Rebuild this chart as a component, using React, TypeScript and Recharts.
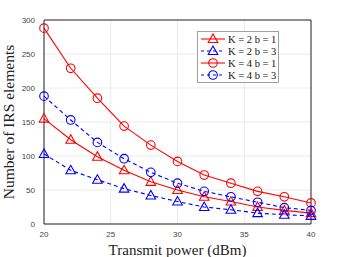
import { LineChart, Line, XAxis, YAxis, CartesianGrid, ReferenceLine, Legend, Label } from 'recharts'

const power = [20, 22, 24, 26, 28, 30, 32, 34, 36, 38, 40]
const k2b1 = [155, 124, 99, 79, 62, 50, 40, 33, 25, 20, 16]
const k2b3 = [103, 79, 65, 52, 42, 33, 25, 21, 16, 13.5, 12]
const k4b1 = [288, 229, 185, 144, 116, 92, 72, 60, 48, 40, 31]
const k4b3 = [188, 153, 120, 96, 76, 60, 48, 40, 32, 24, 20]
const xTicks = [20, 25, 30, 35, 40]
const yTicks = [0, 50, 100, 150, 200, 250, 300]

const data = power.map((p, i) => ({ p, k2b1: k2b1[i], k2b3: k2b3[i], k4b1: k4b1[i], k4b3: k4b3[i] }))

const series = [
  { key: 'k2b1', name: 'K = 2 b = 1', color: '#ff0000', dash: undefined, shape: 'tri' },
  { key: 'k2b3', name: 'K = 2 b = 3', color: '#0000ff', dash: '4 3', shape: 'tri' },
  { key: 'k4b1', name: 'K = 4 b = 1', color: '#ff0000', dash: undefined, shape: 'circ' },
  { key: 'k4b3', name: 'K = 4 b = 3', color: '#0000ff', dash: '4 3', shape: 'circ' },
]

const Marker = ({ cx, cy, color, shape }: any) => {
  if (cx == null || cy == null) return null
  if (shape === 'tri') {
    return (
      <polygon points={`${cx},${cy - 5} ${cx - 4.8},${cy + 3.5} ${cx + 4.8},${cy + 3.5}`}
        fill="none" stroke={color} strokeWidth={1.1} strokeDasharray="none" />
    )
  }
  return <circle cx={cx} cy={cy} r={4.3} fill="none" stroke={color} strokeWidth={1.1} strokeDasharray="none" />
}

const LegendBox = () => (
  <div style={{ background: '#fff', border: '1px solid #a0a0a0', padding: '1px 2px', fontFamily: '"Liberation Serif", serif', fontSize: 10.5, color: '#111' }}>
    {series.map(s => (
      <div key={s.key} style={{ display: 'flex', alignItems: 'center', height: 12 }}>
        <svg width={26} height={12}>
          <line x1={1} y1={6} x2={25} y2={6} stroke={s.color} strokeWidth={1.1} strokeDasharray={s.dash ? '3 3' : undefined} />
          <Marker cx={13} cy={6} color={s.color} shape={s.shape} />
        </svg>
        <span style={{ marginLeft: 2, whiteSpace: 'nowrap' }}>{s.name}</span>
      </div>
    ))}
  </div>
)

export default function App() {
  const tick = { fill: '#444', fontSize: 8, fontFamily: '"Liberation Sans", Arial, sans-serif' }
  return (
    <div style={{ position: 'absolute', left: 0, top: 0, width: 343, height: 257, background: '#fff' }}>
      <LineChart width={343} height={257} data={data} margin={{ top: 20, right: 32, bottom: 0, left: 0 }}>
        <CartesianGrid stroke="#e6e6e6" strokeWidth={0.8} />
        <XAxis dataKey="p" type="number" domain={[20, 40]} ticks={xTicks} height={33}
          tick={tick} tickLine={false} stroke="#262626" tickMargin={1}>
          <Label value="Transmit power (dBm)" position="insideBottom" offset={2}
            style={{ fontFamily: '"Liberation Serif", serif', fontSize: 15, fill: '#222' }} />
        </XAxis>
        <YAxis domain={[0, 300]} ticks={yTicks} width={44} tick={tick} tickLine={false}
          stroke="#262626" tickMargin={3}>
          <Label value="Number of IRS elements" angle={-90} position="insideLeft" offset={8}
            style={{ fontFamily: '"Liberation Serif", serif', fontSize: 15.5, fill: '#222', textAnchor: 'middle' }} />
        </YAxis>
        <ReferenceLine y={300} stroke="#262626" />
        <ReferenceLine x={40} stroke="#262626" />
        {series.map(s => (
          <Line key={s.key} dataKey={s.key} name={s.name} type="linear" stroke={s.color}
            strokeWidth={1.1} strokeDasharray={s.dash} isAnimationActive={false}
            dot={(props: any) => <Marker key={`${s.key}-${props.index}`} cx={props.cx} cy={props.cy} color={s.color} shape={s.shape} />}
            activeDot={false} />
        ))}
        <Legend layout="vertical" align="center" verticalAlign="middle" content={<LegendBox />}
          wrapperStyle={{ top: 31, left: 197, width: 'auto' }} />
      </LineChart>
    </div>
  )
}
